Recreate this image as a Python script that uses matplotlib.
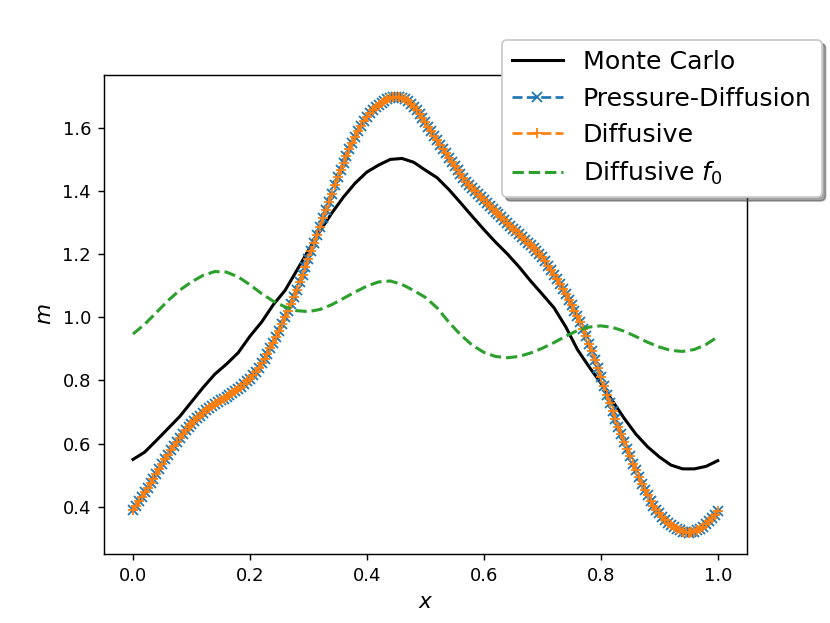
import numpy as np
import matplotlib
matplotlib.use("Agg")
import matplotlib.pyplot as plt

# Pressure-Diffusion / Diffusive solution, read on a 0.005 grid
x_fine = np.linspace(0.0, 1.0, 201)
m_pressure = [
    0.390, 0.404, 0.418, 0.432, 0.446, 0.460, 0.474, 0.489, 0.504, 0.519,
    0.534, 0.550, 0.565, 0.579, 0.593, 0.606, 0.619, 0.631, 0.642, 0.653,
    0.663, 0.672, 0.681, 0.689, 0.697, 0.705, 0.712, 0.719, 0.725, 0.731,
    0.737, 0.742, 0.748, 0.754, 0.760, 0.766, 0.773, 0.780, 0.788, 0.797,
    0.806, 0.816, 0.827, 0.840, 0.854, 0.869, 0.885, 0.902, 0.920, 0.939,
    0.958, 0.979, 1.000, 1.021, 1.043, 1.065, 1.088, 1.111, 1.135, 1.159,
    1.184, 1.209, 1.235, 1.261, 1.287, 1.313, 1.339, 1.366, 1.392, 1.418,
    1.443, 1.467, 1.490, 1.512, 1.533, 1.553, 1.572, 1.590, 1.606, 1.621,
    1.634, 1.646, 1.656, 1.665, 1.673, 1.680, 1.686, 1.691, 1.695, 1.698,
    1.699, 1.698, 1.695, 1.690, 1.684, 1.676, 1.667, 1.656, 1.644, 1.631,
    1.617, 1.603, 1.589, 1.575, 1.561, 1.547, 1.533, 1.519, 1.505, 1.491,
    1.478, 1.465, 1.453, 1.441, 1.430, 1.419, 1.409, 1.399, 1.389, 1.380,
    1.371, 1.362, 1.353, 1.344, 1.335, 1.326, 1.317, 1.308, 1.299, 1.290,
    1.281, 1.272, 1.263, 1.254, 1.245, 1.236, 1.228, 1.219, 1.210, 1.200,
    1.190, 1.177, 1.163, 1.149, 1.134, 1.120, 1.105, 1.089, 1.073, 1.056,
    1.039, 1.021, 1.003, 0.984, 0.963, 0.941, 0.917, 0.892, 0.866, 0.839,
    0.811, 0.783, 0.755, 0.729, 0.703, 0.678, 0.654, 0.630, 0.606, 0.583,
    0.560, 0.537, 0.515, 0.493, 0.473, 0.454, 0.436, 0.419, 0.404, 0.391,
    0.379, 0.368, 0.358, 0.349, 0.342, 0.336, 0.330, 0.325, 0.321, 0.319,
    0.318, 0.319, 0.321, 0.325, 0.330, 0.337, 0.345, 0.354, 0.364, 0.375,
    0.387,
]
m_diffusive = list(m_pressure)  # indistinguishable from Pressure-Diffusion

# Monte Carlo and Diffusive f0, read on a 0.02 grid
x_coarse = np.linspace(0.0, 1.0, 51)
m_monte_carlo = [
    0.550, 0.573, 0.610, 0.648, 0.686, 0.732, 0.778, 0.820, 0.852, 0.888,
    0.940, 0.985, 1.040, 1.085, 1.148, 1.212, 1.274, 1.330, 1.381, 1.425,
    1.460, 1.482, 1.500, 1.503, 1.491, 1.466, 1.442, 1.405, 1.363, 1.320,
    1.278, 1.238, 1.201, 1.160, 1.115, 1.073, 1.030, 0.970, 0.898, 0.843,
    0.792, 0.735, 0.680, 0.630, 0.590, 0.558, 0.532, 0.520, 0.520, 0.528,
    0.546,
]
m_diffusive_f0 = [
    0.947, 0.978, 1.015, 1.053, 1.086, 1.112, 1.133, 1.145, 1.143, 1.128,
    1.103, 1.075, 1.051, 1.033, 1.021, 1.018, 1.025, 1.040, 1.060, 1.080,
    1.099, 1.112, 1.115, 1.104, 1.085, 1.063, 1.030, 0.985, 0.945, 0.912,
    0.889, 0.876, 0.872, 0.876, 0.887, 0.902, 0.920, 0.940, 0.958, 0.969,
    0.973, 0.968, 0.956, 0.939, 0.921, 0.906, 0.895, 0.892, 0.898, 0.914,
    0.938,
]

fig = plt.figure(figsize=(8.3 / 1.3, 6.23 / 1.3), dpi=130)
ax = fig.add_subplot(111)

ax.plot(x_coarse, m_monte_carlo, color="black", lw=1.7, label="Monte Carlo")
ax.plot(x_fine, m_pressure, linestyle="--", marker="x", color="C0",
        label="Pressure-Diffusion")
ax.plot(x_fine, m_diffusive, linestyle="--", marker="+", color="C1",
        label="Diffusive")
ax.plot(x_coarse, m_diffusive_f0, linestyle="--", color="C2", lw=1.7,
        label="Diffusive $f_0$")

ax.set_xlabel("$x$", fontsize=12)
ax.set_ylabel("$m$", fontsize=12)
ax.legend(loc="upper right", bbox_to_anchor=(1.136, 1.099), shadow=True,
          fontsize=14)

fig.savefig("out.png", dpi=130)
